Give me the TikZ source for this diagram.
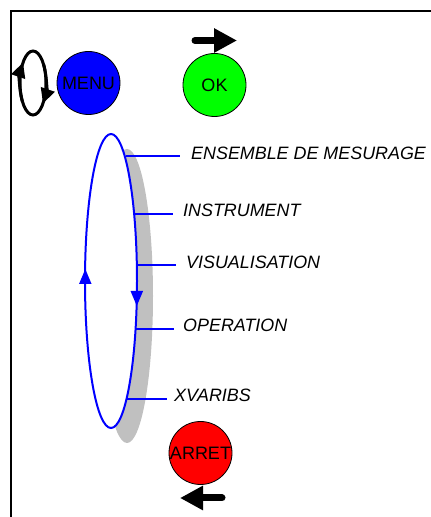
\documentclass[tikz,border=0pt]{standalone}
\usepackage{fontspec}
\setmainfont{Liberation Sans}
\usetikzlibrary{shapes.geometric,arrows.meta}
\begin{document}
\begin{tikzpicture}[x=1pt,y=1pt,
  btn/.style={circle, draw=black, line width=0.8pt, minimum size=63pt, inner sep=0pt, font=\fontsize{18}{20}\selectfont},
  lbl/.style={anchor=west, inner sep=0pt, font=\fontsize{17.9}{20}\selectfont\itshape},
  lead/.style={blue, line width=2pt},
  bigarrow/.style={line width=7pt, line cap=round, -{Triangle[length=23pt 0 0, width=23pt 0 0]}},
  smallarrow/.style={line width=3pt, -{Triangle[length=15pt 0 0, width=14pt 0 0]}},
  looparrow/.style={blue, line width=2pt, -{Triangle[length=15pt 0 0, width=12pt 0 0]}},
  ]
\useasboundingbox (0,0) rectangle (431,517);
\begin{scope}
  \clip (0,0) rectangle (431,517);
  \draw[line width=2pt] (10.5,-5) -- (10.5,506) -- (440,506);
\end{scope}

% rotation icon
\coordinate (rot) at (33,434);
\draw[line width=3pt] (rot) ellipse [x radius=13, y radius=32];
\draw[smallarrow] ([shift={(215:13 and 32)}]rot) arc[start angle=215, end angle=140, x radius=13, y radius=32];
\draw[smallarrow] ([shift={(35:13 and 32)}]rot) arc[start angle=35, end angle=-40, x radius=13, y radius=32];

% buttons
\node[btn, fill={rgb,255:red,0;green,0;blue,255}] (menu) at (88.5,434) {MENU};
\node[btn, fill={rgb,255:red,0;green,255;blue,0}] (ok) at (214.5,432) {OK};
\node[btn, fill={rgb,255:red,255;green,0;blue,0}] (arret) at (200.5,64) {ARRET};

\coordinate (oktail) at (195,476.5);
\coordinate (okhead) at (237,476.5);
\draw[bigarrow] (oktail) -- (okhead);
\coordinate (artail) at (222,19);
\coordinate (arhead) at (180,19);
\draw[bigarrow] (artail) -- (arhead);

% loop
\node[ellipse, fill={rgb,255:red,192;green,192;blue,192}, minimum width=52pt, minimum height=294pt, inner sep=0pt] (shadow) at (127,221) {};
\node[ellipse, draw=blue, fill=white, line width=2pt, minimum width=52pt, minimum height=294pt, inner sep=0pt] (loop) at (111,236) {};

\coordinate (upA) at (85.3,225);
\coordinate (upB) at (85.3,248);
\draw[looparrow] (upA) -- (upB);
\coordinate (dnA) at (136.8,235);
\coordinate (dnB) at (136.8,211);
\draw[looparrow] (dnA) -- (dnB);

% labels
\coordinate (e1) at (125.5,360.5);
\coordinate (e2) at (134.3,303.3);
\coordinate (e3) at (136.8,252);
\coordinate (e4) at (135.7,188.3);
\coordinate (e5) at (127,118.2);
\coordinate (t1) at (180,360.5);
\coordinate (t2) at (173,303.3);
\coordinate (t3) at (176,252);
\coordinate (t4) at (174,188.3);
\coordinate (t5) at (167,118.2);
\node[lbl] (l1) at (191,363.5) {ENSEMBLE DE MESURAGE};
\node[lbl] (l2) at (183,306.3) {INSTRUMENT};
\node[lbl] (l3) at (186,255) {VISUALISATION};
\node[lbl] (l4) at (183,191.3) {OPERATION};
\node[lbl] (l5) at (174,121.2) {XVARIBS};
\draw[lead] (e1) -- (t1);
\draw[lead] (e2) -- (t2);
\draw[lead] (e3) -- (t3);
\draw[lead] (e4) -- (t4);
\draw[lead] (e5) -- (t5);
\end{tikzpicture}
\end{document}
